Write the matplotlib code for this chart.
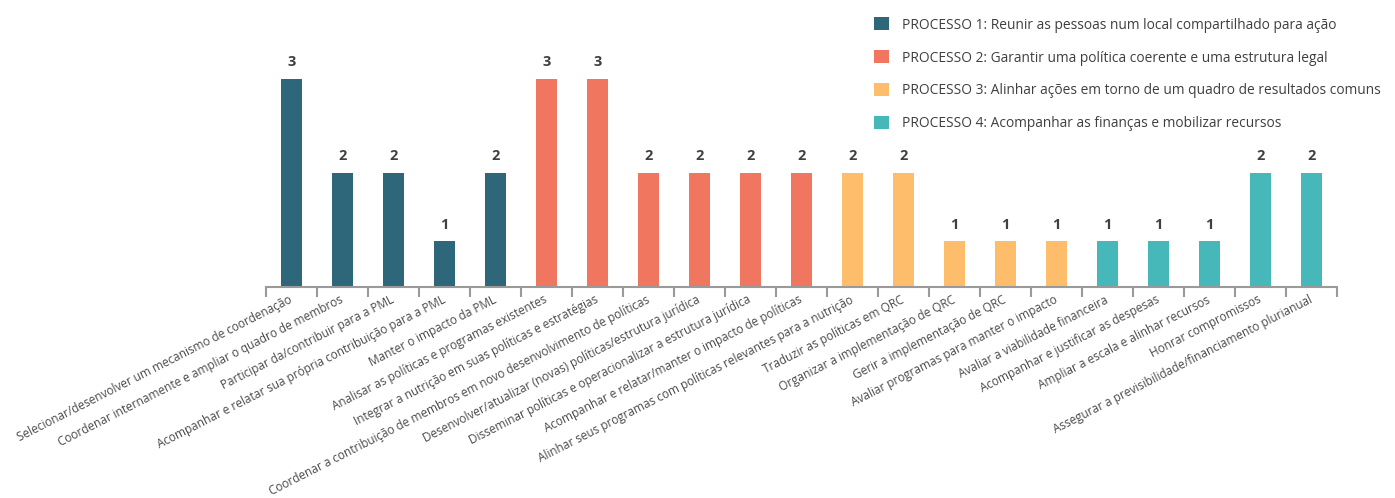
import matplotlib
matplotlib.use("Agg")
import matplotlib.pyplot as plt
from matplotlib.patches import Patch

plt.rcParams['font.family'] = ['Open Sans', 'DejaVu Sans']

categories = [
    "Selecionar/desenvolver um mecanismo de coordenação",
    "Coordenar internamente e ampliar o quadro de membros",
    "Participar da/contribuir para a PML",
    "Acompanhar e relatar sua própria contribuição para a PML",
    "Manter o impacto da PML",
    "Analisar as políticas e programas existentes",
    "Integrar a nutrição em suas políticas e estratégias",
    "Coordenar a contribuição de membros em novo desenvolvimento de políticas",
    "Desenvolver/atualizar (novas) políticas/estrutura jurídica",
    "Disseminar políticas e operacionalizar a estrutura jurídica",
    "Acompanhar e relatar/manter o impacto de políticas",
    "Alinhar seus programas com políticas relevantes para a nutrição",
    "Traduzir as políticas em QRC",
    "Organizar a implementação de QRC",
    "Gerir a implementação de QRC",
    "Avaliar programas para manter o impacto",
    "Avaliar a viabilidade financeira",
    "Acompanhar e justificar as despesas",
    "Ampliar a escala e alinhar recursos",
    "Honrar compromissos",
    "Assegurar a previsibilidade/financiamento plurianual",
]
counts = [3, 2, 2, 1, 2, 3, 3, 2, 2, 2, 2, 2, 2, 1, 1, 1, 1, 1, 1, 2, 2]
# drawn bar heights (the graphic is not linear in the count)
bar_heights = [3.0, 1.64, 1.64, 0.65, 1.64, 3.0, 3.0, 1.64, 1.64, 1.64, 1.64,
               1.64, 1.64, 0.65, 0.65, 0.65, 0.65, 0.65, 0.65, 1.64, 1.64]
process = [1, 1, 1, 1, 1, 2, 2, 2, 2, 2, 2, 3, 3, 3, 3, 3, 4, 4, 4, 4, 4]
process_labels = [
    "PROCESSO 1: Reunir as pessoas num local compartilhado para ação",
    "PROCESSO 2: Garantir uma política coerente e uma estrutura legal",
    "PROCESSO 3: Alinhar ações em torno de um quadro de resultados comuns",
    "PROCESSO 4: Acompanhar as finanças e mobilizar recursos",
]
process_colors = {1: "#2E6779", 2: "#F0765F", 3: "#FDBD6A", 4: "#47B8B9"}

fig = plt.figure(figsize=(13.95, 4.98), dpi=100)
ax = fig.add_axes([266/1395, 1 - 286.5/498, 1071/1395, 286.5/498])

x = list(range(len(categories)))
colors = [process_colors[p] for p in process]
bars = ax.bar(x, bar_heights, width=0.41, color=colors, zorder=2)
for xi, h, c in zip(x, bar_heights, counts):
    ax.annotate(str(c), (xi, h), xytext=(0, 7), textcoords='offset points',
                ha='center', va='bottom', fontsize=10.5, fontweight='bold',
                color='#404040')

ax.set_xlim(-0.5, len(categories) - 0.5)
ax.set_ylim(0, 286.5 / 207.7 * 3.0)
for s in ['top', 'right', 'left']:
    ax.spines[s].set_visible(False)
ax.spines['bottom'].set_color('#9a9a9a')
ax.spines['bottom'].set_linewidth(1.5)
ax.set_yticks([])
ax.set_xticks(x)
ax.set_xticklabels(categories, rotation=27, ha='right', rotation_mode='anchor',
                   fontsize=8.5, color='#4a4a4a')
ax.tick_params(axis='x', which='major', length=0, pad=9)
ax.set_xticks([i - 0.5 for i in range(len(categories) + 1)], minor=True)
ax.tick_params(axis='x', which='minor', length=7, width=1.5, color='#9a9a9a')
for lbl in ax.get_xticklabels():
    lbl.set_va('center')

handles = [Patch(facecolor=process_colors[i + 1], edgecolor='none') for i in range(4)]
fig.legend(handles, process_labels, loc='upper left',
           bbox_to_anchor=(869/1395, 1 - 12/498), frameon=False,
           fontsize=9.9, labelcolor='#3f3f3f', handlelength=1.05,
           handleheight=1.05, handletextpad=0.95, labelspacing=1.3,
           borderaxespad=0)

fig.savefig("out.png", dpi=100)
